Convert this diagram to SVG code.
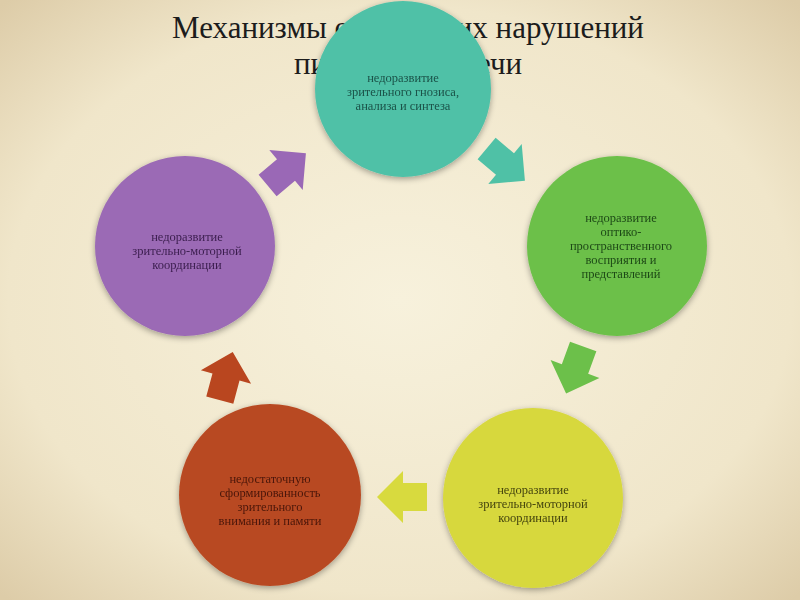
<svg xmlns="http://www.w3.org/2000/svg" width="800" height="600" viewBox="0 0 800 600">
<defs>
<radialGradient id="bg" cx="50%" cy="50%" r="70%">
<stop offset="0" stop-color="#f7f1dc"/>
<stop offset="0.7" stop-color="#f0e6ca"/>
<stop offset="1" stop-color="#ddcca8"/>
</radialGradient>
<filter id="sh" x="-20%" y="-20%" width="140%" height="140%">
<feGaussianBlur in="SourceAlpha" stdDeviation="3"/>
<feOffset dx="0" dy="2"/>
<feComponentTransfer><feFuncA type="linear" slope="0.35"/></feComponentTransfer>
<feMerge><feMergeNode/><feMergeNode in="SourceGraphic"/></feMerge>
</filter>
<polygon id="arr" points="-24,-14 0,-14 0,-26 26,0 0,26 0,14 -24,14"/>
<style>
.title{font-family:"Liberation Serif","DejaVu Serif",serif;font-size:31px;fill:#1c1c1c;text-anchor:middle}
.lbl{font-family:"Liberation Serif","DejaVu Serif",serif;font-size:12.5px;text-anchor:middle}
</style>
</defs>
<rect width="800" height="600" fill="url(#bg)"/>
<g id="title">
<text class="title" x="408" y="38">Механизмы оптических нарушений</text>
<text class="title" x="408" y="74">письменной речи</text>
</g>
<g id="connectors">
<use href="#arr" fill="#4fc1a6" transform="translate(505,164) rotate(40)"/>
<use href="#arr" fill="#6cc04a" transform="translate(575,369) rotate(110)"/>
<use href="#arr" fill="#d8da3e" transform="translate(403,497) rotate(180)"/>
<use href="#arr" fill="#b9461f" transform="translate(226,377) rotate(-75)"/>
<use href="#arr" fill="#9a68b6" transform="translate(286,170) rotate(-40)"/>
</g>
<g id="n1" filter="url(#sh)">
<circle cx="403" cy="89" r="88" fill="#4fc1a7"/>
<text class="lbl" fill="#1b5248"><tspan x="403" y="82">недоразвитие</tspan><tspan x="403" y="96">зрительного гнозиса,</tspan><tspan x="403" y="110">анализа и синтеза</tspan></text>
</g>
<g id="n2" filter="url(#sh)">
<circle cx="617" cy="246" r="90" fill="#6cc04a"/>
<text class="lbl" fill="#1e4a17"><tspan x="621" y="222">недоразвитие</tspan><tspan x="621" y="236">оптико-</tspan><tspan x="621" y="250">пространственного</tspan><tspan x="621" y="264">восприятия и</tspan><tspan x="621" y="278">представлений</tspan></text>
</g>
<g id="n3" filter="url(#sh)">
<circle cx="533" cy="498" r="90" fill="#d7d83d"/>
<text class="lbl" fill="#45450f"><tspan x="533" y="494">недоразвитие</tspan><tspan x="533" y="508">зрительно-моторной</tspan><tspan x="533" y="522">координации</tspan></text>
</g>
<g id="n4" filter="url(#sh)">
<circle cx="270" cy="495" r="91" fill="#b84a23"/>
<text class="lbl" fill="#4a1608"><tspan x="270" y="483">недостаточную</tspan><tspan x="270" y="497">сформированность</tspan><tspan x="270" y="511">зрительного</tspan><tspan x="270" y="525">внимания и памяти</tspan></text>
</g>
<g id="n5" filter="url(#sh)">
<circle cx="185" cy="246" r="90" fill="#9b6bb5"/>
<text class="lbl" fill="#3b1d4e"><tspan x="187" y="241">недоразвитие</tspan><tspan x="187" y="255">зрительно-моторной</tspan><tspan x="187" y="269">координации</tspan></text>
</g>
</svg>
